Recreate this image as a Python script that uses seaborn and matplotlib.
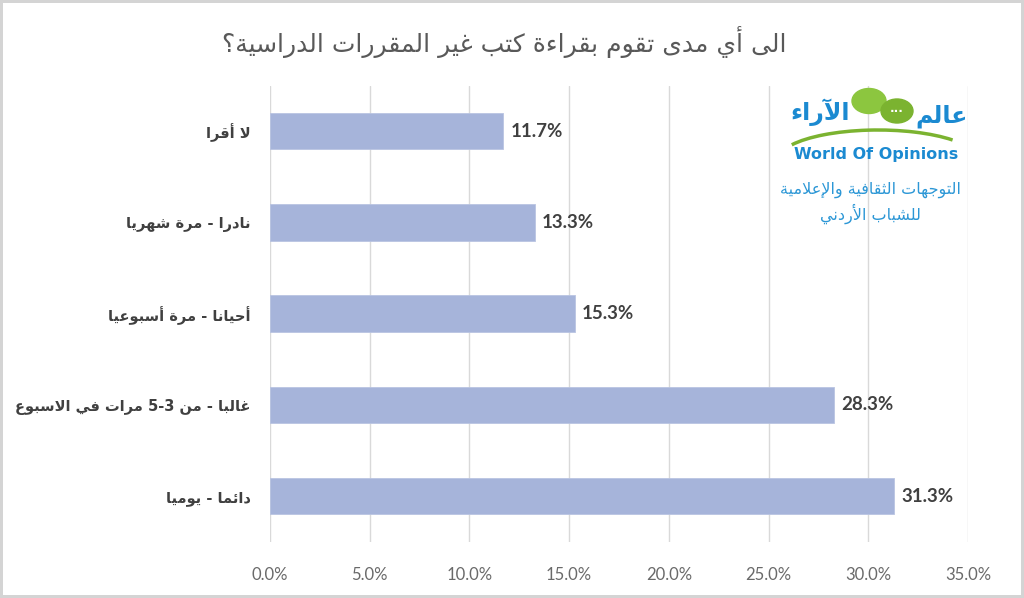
import re
import matplotlib
matplotlib.use('Agg')

import seaborn as sns
import matplotlib.pyplot as plt
from matplotlib.patches import Ellipse, Arc

# --- chart data ---
TITLE = "الى أي مدى تقوم بقراءة كتب غير المقررات الدراسية؟"
CATEGORIES = [
    "لا أقرا",
    "نادرا - مرة شهريا",
    "أحيانا - مرة أسبوعيا",
    "غالبا - من 3-5 مرات في الاسبوع",
    "دائما - يوميا",
]
VALUES = [11.7, 13.3, 15.3, 28.3, 31.3]
X_TICKS = [0, 5, 10, 15, 20, 25, 30, 35]

LOGO_AR = ["عالم", "الآراء"]
LOGO_EN = "World Of Opinions"
LOGO_SUB = ["التوجهات الثقافية والإعلامية", "للشباب الأردني"]

BAR_COLOR = "#a6b4da"
TEXT_DARK = "#404040"
TEXT_GRAY = "#595959"
LOGO_BLUE = "#1b8ad1"
LOGO_GREEN = "#7bb330"

# matplotlib has no Arabic shaping or bidi, so do a small version by hand:
# (first presentation form code point, number of forms)
FORMS = {
    'ء': (0xFE80, 1), 'آ': (0xFE81, 2), 'أ': (0xFE83, 2), 'ؤ': (0xFE85, 2),
    'إ': (0xFE87, 2), 'ئ': (0xFE89, 4), 'ا': (0xFE8D, 2), 'ب': (0xFE8F, 4),
    'ة': (0xFE93, 2), 'ت': (0xFE95, 4), 'ث': (0xFE99, 4), 'ج': (0xFE9D, 4),
    'ح': (0xFEA1, 4), 'خ': (0xFEA5, 4), 'د': (0xFEA9, 2), 'ذ': (0xFEAB, 2),
    'ر': (0xFEAD, 2), 'ز': (0xFEAF, 2), 'س': (0xFEB1, 4), 'ش': (0xFEB5, 4),
    'ص': (0xFEB9, 4), 'ض': (0xFEBD, 4), 'ط': (0xFEC1, 4), 'ظ': (0xFEC5, 4),
    'ع': (0xFEC9, 4), 'غ': (0xFECD, 4), 'ف': (0xFED1, 4), 'ق': (0xFED5, 4),
    'ك': (0xFED9, 4), 'ل': (0xFEDD, 4), 'م': (0xFEE1, 4), 'ن': (0xFEE5, 4),
    'ه': (0xFEE9, 4), 'و': (0xFEED, 2), 'ى': (0xFEEF, 2), 'ي': (0xFEF1, 4),
}
LAM_ALEF = {'آ': 0xFEF5, 'أ': 0xFEF7, 'إ': 0xFEF9, 'ا': 0xFEFB}


def ar(text):
    """Shape Arabic letters and reorder for left-to-right drawing."""
    units = []
    i = 0
    while i < len(text):
        c = text[i]
        if c == 'ل' and i + 1 < len(text) and text[i + 1] in LAM_ALEF:
            units.append((LAM_ALEF[text[i + 1]], 2))
            i += 2
            continue
        units.append(FORMS.get(c, (c, 0)))
        i += 1
    out = []
    for k, (base, n) in enumerate(units):
        if n == 0:
            out.append(base)
            continue
        prev = units[k - 1] if k > 0 else None
        nxt = units[k + 1] if k + 1 < len(units) else None
        jp = prev is not None and prev[1] == 4
        jn = n == 4 and nxt is not None and nxt[1] >= 2
        if n < 2:
            f = 0
        elif jp and jn:
            f = 3
        elif jp:
            f = 1
        elif jn:
            f = 2
        else:
            f = 0
        out.append(chr(base + f))
    tokens = re.findall(r'[0-9A-Za-z.%]+|.', ''.join(out))
    return ''.join(reversed(tokens))


sns.set_theme(style="white")
plt.rcParams['font.family'] = ['DejaVu Sans']

fig = plt.figure(figsize=(10.24, 5.98), dpi=100)
fig.patch.set_facecolor('white')
fig.patch.set_edgecolor('#d4d4d4')
fig.patch.set_linewidth(4)

ax = fig.add_axes([0.2637, 0.094, 0.6816, 0.763])
labels = [ar(c) for c in CATEGORIES]
sns.barplot(x=VALUES, y=labels, orient='h', color=BAR_COLOR, width=0.4,
            saturation=1, ax=ax, edgecolor='#b9c4e2', linewidth=0.6)

ax.set_xlim(X_TICKS[0], X_TICKS[-1])
ax.set_xticks(X_TICKS)
ax.set_xticklabels([f'{t:.1f}%' for t in X_TICKS], family='Lato',
                   fontsize=12, color='#6a6a6a')
ax.tick_params(axis='x', length=0, pad=18)
ax.tick_params(axis='y', length=0, pad=14, labelsize=10.5,
               labelcolor=TEXT_DARK)
for t in ax.get_yticklabels():
    t.set_fontweight('bold')
ax.xaxis.grid(True, color='#d9d9d9', linewidth=1)
ax.set_axisbelow(True)
for s in ax.spines.values():
    s.set_visible(False)
ax.set_xlabel('')
ax.set_ylabel('')

ax.bar_label(ax.containers[0], labels=[f'{v:.1f}%' for v in VALUES],
             padding=5, family='Lato', fontweight='bold', fontsize=13.5,
             color=TEXT_DARK)

fig.text(0.492, 0.93, ar(TITLE), ha='center', va='center', fontsize=18,
         color=TEXT_GRAY)

# logo, drawn in pixel coordinates on an overlay
ov = fig.add_axes([0, 0, 1, 1], facecolor='none')
ov.set_xlim(0, 1024)
ov.set_ylim(598, 0)
ov.axis('off')
ov.add_patch(Ellipse((869, 101), 34, 25, color='#8cc63f'))
ov.add_patch(Ellipse((897, 111), 32, 24, color=LOGO_GREEN))
ov.text(897, 109, '...', ha='center', va='center', fontsize=8.5,
        fontweight='bold', color='white')
ov.text(942, 116, ar(LOGO_AR[0]), ha='center', va='center', fontsize=17,
        fontweight='bold', color=LOGO_BLUE)
ov.text(820, 112, ar(LOGO_AR[1]), ha='center', va='center', fontsize=17,
        fontweight='bold', color=LOGO_BLUE)
ov.add_patch(Arc((878, 160), 200, 60, theta1=190, theta2=345,
                 color=LOGO_GREEN, linewidth=2.5))
ov.text(876, 155, LOGO_EN, ha='center', va='center', fontsize=11.5,
        fontweight='bold', color=LOGO_BLUE)
ov.text(870, 190, ar(LOGO_SUB[0]), ha='center', va='center', fontsize=11.5,
        color='#2c97d6')
ov.text(870, 214, ar(LOGO_SUB[1]), ha='center', va='center', fontsize=11.5,
        color='#2c97d6')

plt.savefig('out.png', dpi=100)
plt.close()
